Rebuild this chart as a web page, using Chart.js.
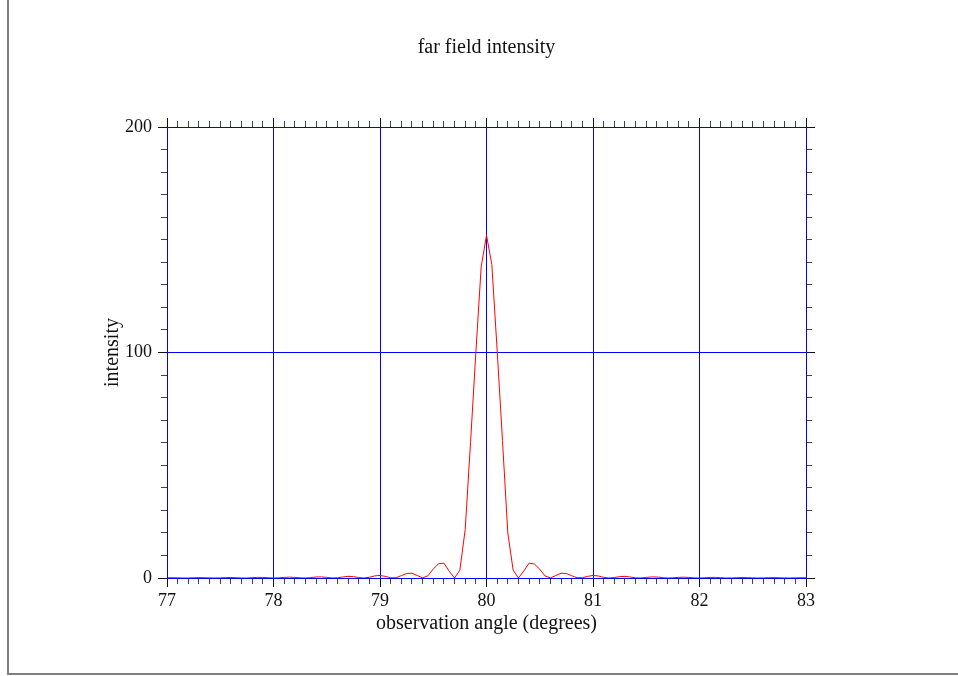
<!DOCTYPE html>
<html>
<head>
<meta charset="utf-8">
<script src="https://cdn.jsdelivr.net/npm/chart.js@4.4.0/dist/chart.umd.min.js"></script>
<style>
    body { margin: 0; background: #fff; }
    #wrap { position: relative; width: 958px; height: 676px; }
    #frame {
        position: absolute; left: 7px; top: 0; width: 951px; height: 673px;
        border-left: 2px solid #808080; border-bottom: 2px solid #808080;
        pointer-events: none;
    }
</style>
</head>
<body>
<div id="wrap">
    <canvas id="farField"></canvas>
    <div id="frame"></div>
</div>
<script>
// observation angle samples (degrees)
const angles = [
    77.00, 77.05, 77.10, 77.15, 77.20, 77.25, 77.30, 77.35, 77.40, 77.45,
    77.50, 77.55, 77.60, 77.65, 77.70, 77.75, 77.80, 77.85, 77.90, 77.95,
    78.00, 78.05, 78.10, 78.15, 78.20, 78.25, 78.30, 78.35, 78.40, 78.45,
    78.50, 78.55, 78.60, 78.65, 78.70, 78.75, 78.80, 78.85, 78.90, 78.95,
    79.00, 79.05, 79.10, 79.15, 79.20, 79.25, 79.30, 79.35, 79.40, 79.45,
    79.50, 79.55, 79.60, 79.65, 79.70, 79.75, 79.80, 79.85, 79.90, 79.95,
    80.00,
    80.05, 80.10, 80.15, 80.20, 80.25, 80.30, 80.35, 80.40, 80.45, 80.50,
    80.55, 80.60, 80.65, 80.70, 80.75, 80.80, 80.85, 80.90, 80.95, 81.00,
    81.05, 81.10, 81.15, 81.20, 81.25, 81.30, 81.35, 81.40, 81.45, 81.50,
    81.55, 81.60, 81.65, 81.70, 81.75, 81.80, 81.85, 81.90, 81.95, 82.00,
    82.05, 82.10, 82.15, 82.20, 82.25, 82.30, 82.35, 82.40, 82.45, 82.50,
    82.55, 82.60, 82.65, 82.70, 82.75, 82.80, 82.85, 82.90, 82.95, 83.00
];

// far field intensity at each angle
const intensity = [
    0.12, 0.13, 0.07, 0.01, 0.02, 0.10, 0.17, 0.14, 0.05, 0.00,
    0.06, 0.18, 0.22, 0.13, 0.02, 0.01, 0.14, 0.27, 0.25, 0.11,
    0.00, 0.07, 0.27, 0.37, 0.27, 0.07, 0.01, 0.19, 0.45, 0.48,
    0.25, 0.02, 0.08, 0.45, 0.74, 0.61, 0.21, 0.00, 0.32, 0.93,
    1.14, 0.70, 0.13, 0.10, 1.05, 2.0, 2.1, 1.1, 0.05, 1.0,
    4.0, 6.3, 6.6, 3.0, 0.0, 3.5, 21.5, 60, 100, 138,
    152,
    139, 101, 61, 20, 3.5, 0.0, 3.1, 6.6, 6.2, 3.9,
    0.9, 0.06, 1.1, 2.1, 2.0, 1.0, 0.1, 0.14, 0.72, 1.13,
    0.9, 0.3, 0.0, 0.22, 0.6, 0.73, 0.44, 0.08, 0.02, 0.26,
    0.47, 0.44, 0.18, 0.01, 0.07, 0.28, 0.36, 0.26, 0.07, 0.0,
    0.11, 0.25, 0.27, 0.14, 0.01, 0.02, 0.13, 0.22, 0.18, 0.06,
    0.0, 0.05, 0.14, 0.17, 0.1, 0.02, 0.01, 0.07, 0.13, 0.12
];

const xLabels = [77, 78, 79, 80, 81, 82, 83];
const yLabels = [0, 100, 200];

const BLUE = "#0000ff";
const TICK = "#444444";
const MAJOR_TICK = "#111111";
const CLEAR = "rgba(0,0,0,0)";
const FONT = "'Liberation Serif', 'Times New Roman', serif";
const TITLE_SIZE = 20;

const isMajor = (v, list) => list.some(l => Math.abs(l - v) < 1e-6);

const points = angles.map((a, i) => ({ x: a, y: intensity[i] }));

// zero-size axes that only add the longer tick marks at labelled values
function majorTicks(axis, position, min, max, step) {
    return {
        type: "linear",
        axis: axis,
        position: position,
        min: min,
        max: max,
        weight: -1,
        afterFit: s => { if (axis === "x") s.height = 0; else s.width = 0; },
        ticks: { stepSize: step, display: false, autoSkip: false },
        grid: { drawOnChartArea: false, tickColor: MAJOR_TICK, tickLength: 9 },
        border: { display: false }
    };
}

const ctx = document.getElementById("farField").getContext("2d");
const chart = new Chart(ctx, {
    type: "line",
    data: {
        datasets: [
            {
                label: "intensity",
                data: points,
                xAxisID: "x",
                yAxisID: "y",
                borderColor: "#ff0000",
                borderWidth: 1,
                pointRadius: 0,
                tension: 0,
                fill: false
            }
        ]
    },
    options: {
        responsive: true,
        maintainAspectRatio: false,
        animation: false,
        layout: { padding: { left: 15, right: 0, top: 0, bottom: 0 } },
        plugins: {
            legend: { display: false },
            tooltip: { enabled: false },
            title: {
                display: true,
                text: "far field intensity",
                color: "#111",
                font: { family: FONT, size: TITLE_SIZE, weight: "normal", lineHeight: 1.2 },
                padding: { top: 36, bottom: 0 }
            }
        },
        scales: {
            x: {
                type: "linear",
                position: "bottom",
                min: 77,
                max: 83,
                afterFit: s => { s.height = 98; },
                ticks: {
                    stepSize: 0.1,
                    autoSkip: false,
                    maxRotation: 0,
                    padding: 6,
                    color: "#111",
                    font: { family: FONT, size: 18 },
                    callback: v => isMajor(v, xLabels) ? String(Math.round(v)) : ""
                },
                grid: {
                    color: c => isMajor(c.tick.value, xLabels) ? BLUE : CLEAR,
                    tickColor: TICK,
                    tickLength: 6,
                    lineWidth: 1,
                    z: -1
                },
                border: { color: BLUE, width: 1, z: 1 },
                title: {
                    display: true,
                    text: "observation angle (degrees)",
                    color: "#111",
                    font: { family: FONT, size: TITLE_SIZE, lineHeight: 1.2 },
                    padding: { top: 0, bottom: 40 }
                }
            },
            x2: {
                type: "linear",
                position: "top",
                min: 77,
                max: 83,
                afterFit: s => { s.height = 127 - (36 + TITLE_SIZE * 1.2); },
                ticks: {
                    stepSize: 0.1,
                    autoSkip: false,
                    display: false
                },
                grid: {
                    drawOnChartArea: false,
                    tickColor: TICK,
                    tickLength: 6
                },
                border: { color: BLUE, width: 1, z: 1 }
            },
            y: {
                type: "linear",
                position: "left",
                min: 0,
                max: 200,
                afterFit: s => { s.width = 152; },
                ticks: {
                    stepSize: 10,
                    autoSkip: false,
                    padding: 9,
                    color: "#111",
                    font: { family: FONT, size: 18 },
                    callback: v => isMajor(v, yLabels) ? String(v) : ""
                },
                grid: {
                    color: c => isMajor(c.tick.value, yLabels) ? BLUE : CLEAR,
                    tickColor: TICK,
                    tickLength: 6,
                    z: -1
                },
                border: { color: BLUE, width: 1, z: 1 },
                title: {
                    display: true,
                    text: "intensity",
                    color: "#111",
                    font: { family: FONT, size: TITLE_SIZE, lineHeight: 1.2 },
                    padding: { top: 86, bottom: 0 }
                }
            },
            y2: {
                type: "linear",
                position: "right",
                min: 0,
                max: 200,
                afterFit: s => { s.width = 152; },
                ticks: {
                    stepSize: 10,
                    autoSkip: false,
                    display: false
                },
                grid: {
                    drawOnChartArea: false,
                    tickColor: TICK,
                    tickLength: 6
                },
                border: { color: BLUE, width: 1, z: 1 }
            },
            xMajorBottom: majorTicks("x", "bottom", 77, 83, 1),
            xMajorTop: majorTicks("x", "top", 77, 83, 1),
            yMajorLeft: majorTicks("y", "left", 0, 200, 100),
            yMajorRight: majorTicks("y", "right", 0, 200, 100)
        }
    }
});
</script>
</body>
</html>
